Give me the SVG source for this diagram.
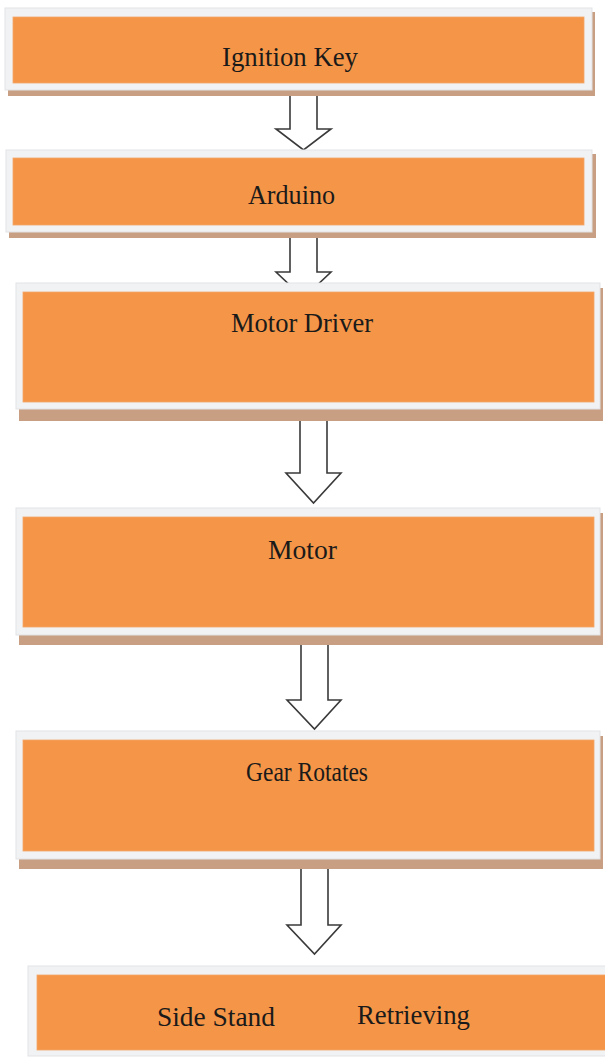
<svg xmlns="http://www.w3.org/2000/svg" width="605" height="1057" viewBox="0 0 605 1057">
<style>
.frame{fill:#f1f2f4;stroke:#e2e3e6;stroke-width:1}
.shadow{fill:#c99f83}
.box{fill:#f59547;stroke:#f2a66a;stroke-width:0.8}
.lbl{font-family:"Liberation Serif","Times New Roman",serif;font-size:28px;fill:#1a1a1a}
.arr{fill:#ffffff;stroke:#3a3a3a;stroke-width:1.6;stroke-linejoin:miter}
</style>
<rect width="605" height="1057" fill="#ffffff"/>
<g id="connectors">
<polygon class="arr" points="290,95 317,95 317,129 331,129 303.5,150 276,129 290,129"/>
<polygon class="arr" points="290,237 317,237 317,272 331,272 303.5,298 276,272 290,272"/>
<polygon class="arr" points="300,417 327,417 327,473 341,473 313.5,503 286,473 300,473"/>
<polygon class="arr" points="301,643 328,643 328,700 341,700 314.5,729 287,700 301,700"/>
<polygon class="arr" points="301,868 328,868 328,925 341,925 314.5,954 287,925 301,925"/>
</g>
<g id="node-ignition">
<rect class="shadow" x="8" y="12" width="587" height="84"/>
<rect class="frame" x="5" y="8" width="587" height="82"/>
<rect class="box" x="13" y="17" width="571" height="66"/>
<text class="lbl" x="222" y="66" textLength="136" lengthAdjust="spacingAndGlyphs">Ignition Key</text>
</g>
<g id="node-arduino">
<rect class="shadow" x="9" y="154" width="587" height="84"/>
<rect class="frame" x="6" y="150" width="586" height="82"/>
<rect class="box" x="13" y="158" width="571" height="67"/>
<text class="lbl" x="248" y="204" textLength="87" lengthAdjust="spacingAndGlyphs">Arduino</text>
</g>
<g id="node-motor-driver">
<rect class="shadow" x="19" y="288" width="584" height="133"/>
<rect class="frame" x="16" y="283" width="584" height="126"/>
<rect class="box" x="23" y="292" width="571" height="110"/>
<text class="lbl" x="231" y="332" textLength="142" lengthAdjust="spacingAndGlyphs">Motor Driver</text>
</g>
<g id="node-motor">
<rect class="shadow" x="19" y="513" width="584" height="132"/>
<rect class="frame" x="16" y="508" width="584" height="127"/>
<rect class="box" x="23" y="517" width="571" height="110"/>
<text class="lbl" x="268" y="559" textLength="69" lengthAdjust="spacingAndGlyphs">Motor</text>
</g>
<g id="node-gear">
<rect class="shadow" x="19" y="736" width="584" height="133"/>
<rect class="frame" x="16" y="731" width="584" height="128"/>
<rect class="box" x="23" y="740" width="571" height="111"/>
<text class="lbl" x="246" y="781" textLength="122" lengthAdjust="spacingAndGlyphs">Gear Rotates</text>
</g>
<g id="node-side-stand">
<rect class="frame" x="28" y="966" width="590" height="90"/>
<rect class="box" x="37" y="975" width="580" height="75"/>
<text class="lbl" x="157" y="1026" textLength="118" lengthAdjust="spacingAndGlyphs">Side Stand</text>
<text class="lbl" x="357" y="1024" textLength="113" lengthAdjust="spacingAndGlyphs">Retrieving</text>
</g>
</svg>
